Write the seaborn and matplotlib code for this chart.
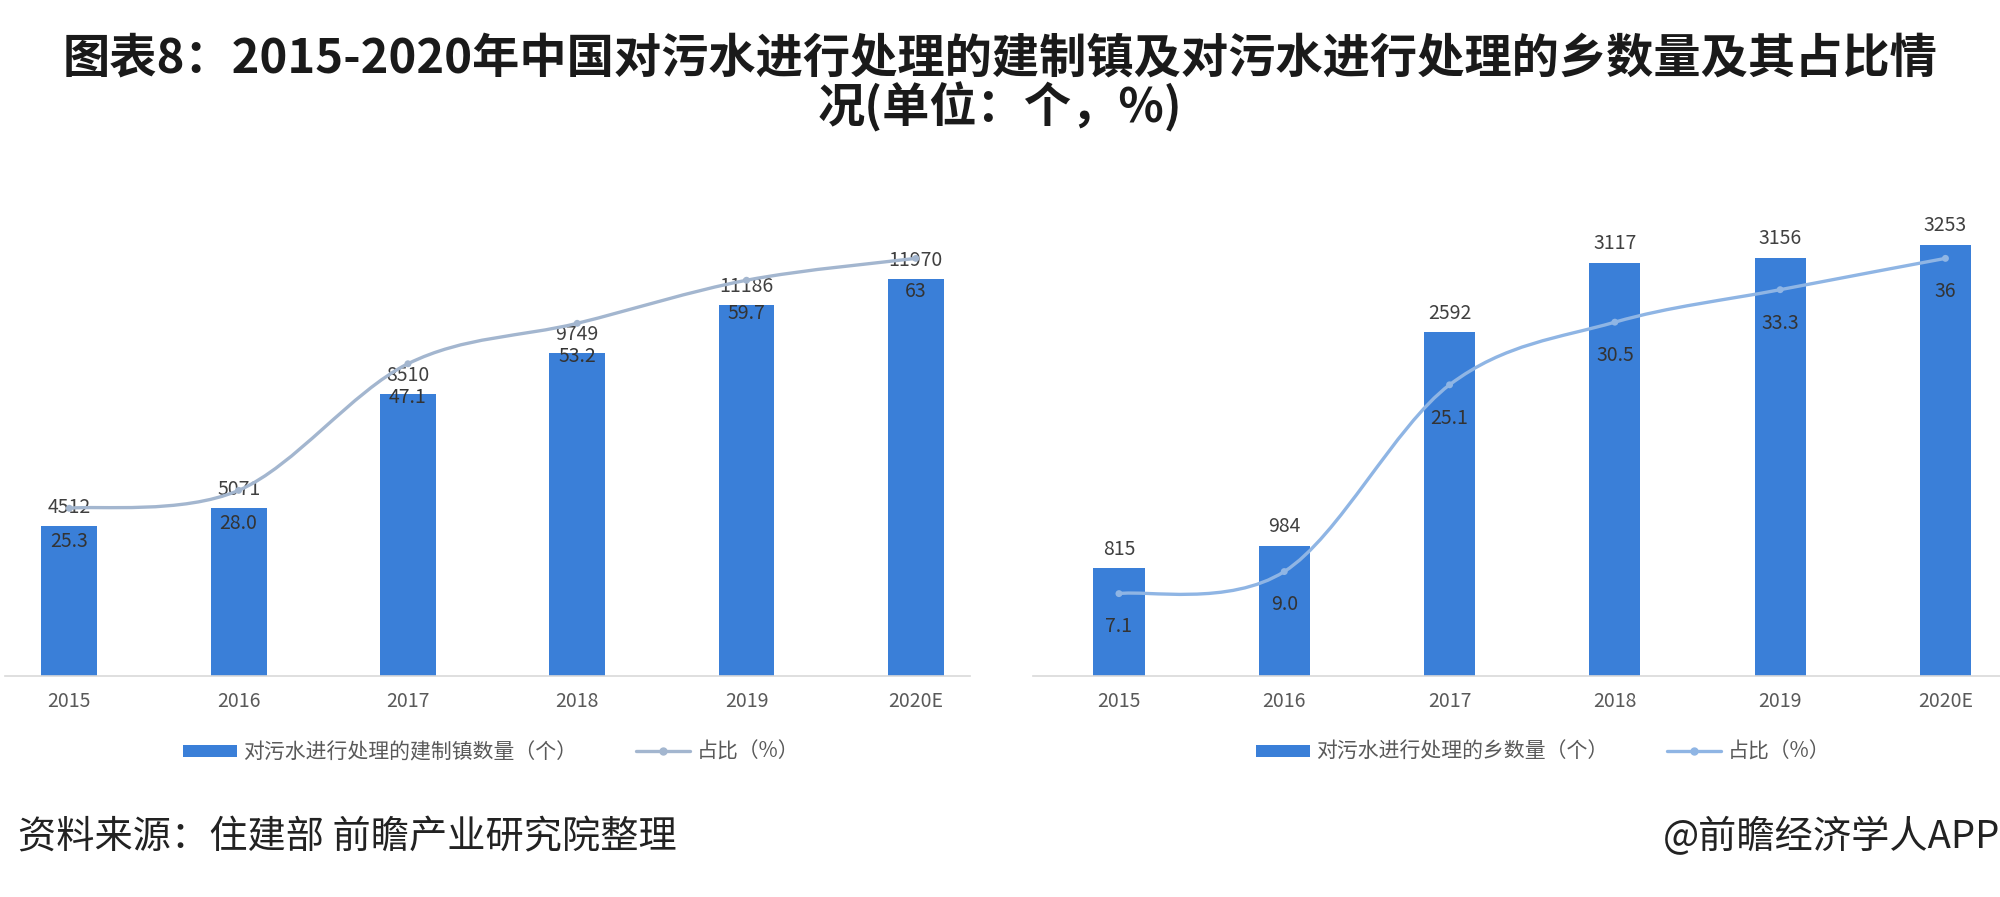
import numpy as np
import pandas as pd
import matplotlib
matplotlib.use("Agg")
import matplotlib.pyplot as plt
from matplotlib.path import Path
from matplotlib.patches import PathPatch, Patch
from matplotlib.lines import Line2D
import seaborn as sns

#%% data
years = ["2015", "2016", "2017", "2018", "2019", "2020E"]
town_count = [4512, 5071, 8510, 9749, 11186, 11970]
town_share = [25.3, 28.0, 47.1, 53.2, 59.7, 63]
town_share_lbl = ["25.3", "28.0", "47.1", "53.2", "59.7", "63"]
village_count = [815, 984, 2592, 3117, 3156, 3253]
village_share = [7.1, 9.0, 25.1, 30.5, 33.3, 36]
village_share_lbl = ["7.1", "9.0", "25.1", "30.5", "33.3", "36"]

title = "图表8：2015-2020年中国对污水进行处理的建制镇及对污水进行处理的乡数量及其占比情\n况(单位：个，%)"
bar_names = ["对污水进行处理的建制镇数量（个）", "对污水进行处理的乡数量（个）"]
line_name = "占比（%）"
source = "资料来源：住建部 前瞻产业研究院整理"
credit = "@前瞻经济学人APP"

#%% style
sns.set_style("white")
plt.rcParams['font.family'] = ['Noto Sans CJK SC', 'DejaVu Sans']
BAR = "#3a7fd8"
TXT = "#404040"


def smooth_path(xs, ys):
    # cubic bezier through the data points (catmull-rom style handles)
    xs = np.asarray(xs, float)
    ys = np.asarray(ys, float)
    verts = [(xs[0], ys[0])]
    codes = [Path.MOVETO]
    n = len(xs)
    for i in range(n - 1):
        p0 = i - 1 if i > 0 else i
        p3 = i + 2 if i + 2 < n else i + 1
        c1 = (xs[i] + (xs[i + 1] - xs[p0]) / 6, ys[i] + (ys[i + 1] - ys[p0]) / 6)
        c2 = (xs[i + 1] - (xs[p3] - xs[i]) / 6, ys[i + 1] - (ys[p3] - ys[i]) / 6)
        verts += [c1, c2, (xs[i + 1], ys[i + 1])]
        codes += [Path.CURVE4] * 3
    return Path(verts, codes)


def panel(rect, counts, shares, share_lbls, ymax, smax, xlim, width, line_col, bar_name, leg_center):
    ax = fig.add_axes(rect)
    df = pd.DataFrame({"year": years, "count": counts})
    sns.barplot(data=df, x="year", y="count", color=BAR, width=width, ax=ax,
                saturation=1, edgecolor="none")
    ax.set_ylim(0, ymax)
    ax.set_xlim(*xlim)
    ax.set_xlabel("")
    ax.set_ylabel("")
    ax.set_yticks([])
    for s in ["top", "left", "right"]:
        ax.spines[s].set_visible(False)
    ax.spines["bottom"].set_color("#d9d9d9")
    ax.spines["bottom"].set_linewidth(1.2)
    ax.tick_params(axis="x", length=0, pad=11, labelsize=14, labelcolor="#595959")
    for i, v in enumerate(counts):
        ax.annotate(str(v), (i, v), xytext=(0, 6), textcoords="offset points",
                    ha="center", va="bottom", fontsize=14, color=TXT)

    ax2 = ax.twinx()
    ax2.set_ylim(0, smax)
    ax2.set_yticks([])
    for s in ["top", "left", "right", "bottom"]:
        ax2.spines[s].set_visible(False)
    xs = np.arange(len(shares))
    ax2.add_patch(PathPatch(smooth_path(xs, shares), facecolor="none",
                            edgecolor=line_col, lw=2.4, capstyle="round"))
    sns.scatterplot(x=xs, y=shares, color=line_col, s=25, edgecolor="none", ax=ax2, zorder=3)
    ax2.set_xlim(*xlim)
    for i, (v, t) in enumerate(zip(shares, share_lbls)):
        ax2.annotate(t, (i, v), xytext=(0, -24), textcoords="offset points",
                     ha="center", va="center", fontsize=14, color="#333333")

    handles = [Patch(facecolor=BAR, edgecolor="none"),
               Line2D([], [], color=line_col, lw=2.4, marker="o", markersize=5)]
    fig.legend(handles, [bar_name, line_name], loc="center",
               bbox_to_anchor=leg_center, ncol=2, frameon=False, fontsize=15,
               labelcolor="#595959", handlelength=2.6, handleheight=0.5,
               columnspacing=2.8, handletextpad=0.3)
    return ax


#%% figure
fig = plt.figure(figsize=(20, 8.97), dpi=100)
fig.patch.set_facecolor("white")

panel([0.0025, 0.2464, 0.4825, 0.5173], town_count, town_share, town_share_lbl,
      14000, 70, (-0.38, 5.32), 0.33, "#a3b6cf", bar_names[0], (0.2455, 0.1616))
panel([0.5165, 0.2464, 0.4835, 0.5173], village_count, village_share, village_share_lbl,
      3500, 40, (-0.52, 5.33), 0.31, "#8fb5e4", bar_names[1], (0.7715, 0.1616))

fig.text(0.5, 0.907, title, ha="center", va="center", fontsize=34,
         fontweight="bold", color="#1a1a1a", linespacing=1.0)
fig.text(0.009, 0.066, source, ha="left", va="center", fontsize=27.5, color="#222222")
fig.text(1.0, 0.066, credit, ha="right", va="center", fontsize=27.5, color="#222222")

fig.savefig("out.png", dpi=100, facecolor="white")
